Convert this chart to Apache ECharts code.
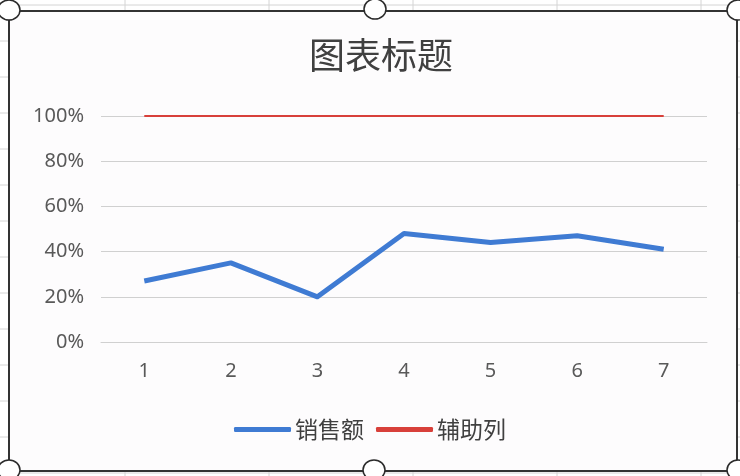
<!DOCTYPE html>
<html>
<head>
<meta charset="utf-8">
<script src="https://cdn.jsdelivr.net/npm/echarts@6/dist/echarts.min.js"></script>
<style>
html,body{margin:0;padding:0;background:#ffffff;}
#chart{width:740px;height:476px;}
</style>
</head>
<body>
<div id="chart"></div>
<script>
var categories = ['1', '2', '3', '4', '5', '6', '7'];
var salesValues = [0.27, 0.35, 0.20, 0.48, 0.44, 0.47, 0.41];
var helperValues = [1, 1, 1, 1, 1, 1, 1];
var seriesNames = ['销售额', '辅助列'];
var chartTitle = '图表标题';

var chart = echarts.init(document.getElementById('chart'), null, {renderer: 'canvas'});

var sheetLines = [];
[125, 269, 413, 557, 701].forEach(function (x) {
  sheetLines.push({type: 'line', z: -10, silent: true,
    shape: {x1: x, y1: 0, x2: x, y2: 476},
    style: {stroke: '#d4d4d4', lineWidth: 1}});
});
for (var y = 5; y < 476; y += 36) {
  sheetLines.push({type: 'line', z: -10, silent: true,
    shape: {x1: 0, y1: y, x2: 740, y2: y},
    style: {stroke: '#d4d4d4', lineWidth: 1}});
}
var handles = [[9, 10], [375, 9], [738, 10], [9, 470], [374, 470], [738, 470]].map(function (p) {
  return {type: 'ellipse', z: 100, silent: true,
    shape: {cx: p[0], cy: p[1], rx: 11, ry: 10},
    style: {fill: '#ffffff', stroke: '#2b2b2b', lineWidth: 1.5}};
});

var option = {
  animation: false,
  backgroundColor: '#ffffff',
  textStyle: {fontFamily: '"Noto Sans", "Noto Sans CJK SC", sans-serif'},
  graphic: sheetLines.concat([
    {type: 'rect', z: -5, silent: true,
      shape: {x: 9, y: 11, width: 728, height: 460},
      style: {fill: '#fdfcfd', stroke: '#333333', lineWidth: 2}}
  ]).concat(handles),
  title: {
    text: chartTitle,
    left: 376,
    textAlign: 'center',
    top: 32,
    textStyle: {fontFamily: '"Noto Sans CJK SC", sans-serif', fontSize: 36, fontWeight: 'normal', color: '#404040'}
  },
  legend: {
    data: seriesNames,
    left: 'center',
    top: 413,
    icon: 'roundRect',
    itemWidth: 57,
    itemHeight: 5,
    itemGap: 12,
    textStyle: {fontFamily: '"Noto Sans CJK SC", sans-serif', fontSize: 23, color: '#404040', padding: [0, 0, 0, -1]}
  },
  grid: {left: 101, right: 33, top: 116, bottom: 134, containLabel: false},
  xAxis: {
    type: 'category',
    data: categories,
    boundaryGap: true,
    axisTick: {show: false},
    axisLine: {lineStyle: {color: '#d0d0d0', width: 1}},
    axisLabel: {color: '#595959', fontSize: 20, margin: 19}
  },
  yAxis: {
    type: 'value',
    min: 0,
    max: 1,
    interval: 0.2,
    axisLine: {show: false},
    axisTick: {show: false},
    splitLine: {lineStyle: {color: '#d0d0d0', width: 1}},
    axisLabel: {
      color: '#595959', fontSize: 20, margin: 17,
      formatter: function (v) { return Math.round(v * 100) + '%'; }
    }
  },
  series: [
    {
      name: seriesNames[0], type: 'line', data: salesValues,
      symbol: 'none', color: '#3f7bd3',
      lineStyle: {width: 5, color: '#3f7bd3', join: 'round'}
    },
    {
      name: seriesNames[1], type: 'line', data: helperValues,
      symbol: 'none', color: '#d8403a',
      lineStyle: {width: 2, color: '#d8403a'}
    }
  ]
};
chart.setOption(option);
</script>
</body>
</html>
